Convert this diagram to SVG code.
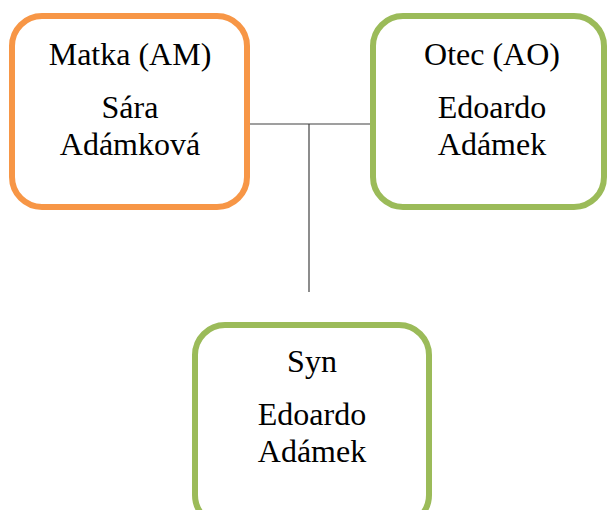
<svg xmlns="http://www.w3.org/2000/svg" width="607" height="510" viewBox="0 0 607 510">
<style>
.box{fill:#fff;stroke-width:6}
.o{stroke:#F79646}
.g{stroke:#9BBB59}
text{font-family:"Liberation Serif","Times New Roman",serif;font-size:32px;fill:#000;text-anchor:middle}
.c{stroke:#404040;stroke-width:1.2;fill:none}
</style>
<rect width="607" height="510" fill="#fff"/>
<g id="connectors">
<line class="c" x1="248" y1="124" x2="374" y2="124"/>
<line class="c" x1="309" y1="124" x2="309" y2="292"/>
</g>
<g id="matka">
<rect class="box o" x="12" y="16" width="235" height="191" rx="30"/>
<text x="130" y="65">Matka (AM)</text>
<text x="130" y="118">Sára</text>
<text x="130" y="155">Adámková</text>
</g>
<g id="otec">
<rect class="box g" x="373" y="16" width="231" height="191" rx="30"/>
<text x="492" y="65">Otec (AO)</text>
<text x="492" y="118">Edoardo</text>
<text x="492" y="155">Adámek</text>
</g>
<g id="syn">
<rect class="box g" x="195" y="325" width="234" height="200" rx="30"/>
<text x="312" y="372">Syn</text>
<text x="312" y="425">Edoardo</text>
<text x="312" y="462">Adámek</text>
</g>
</svg>
